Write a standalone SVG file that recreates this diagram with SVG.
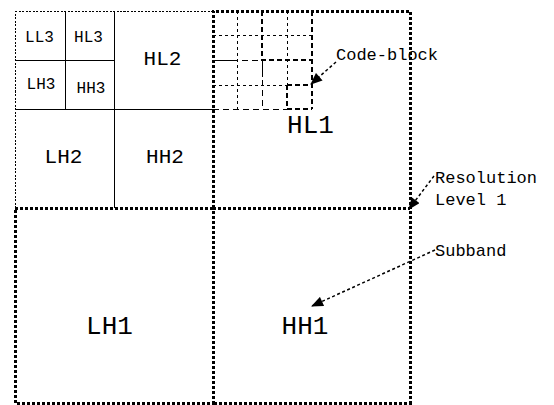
<svg xmlns="http://www.w3.org/2000/svg" width="554" height="405" viewBox="0 0 554 405">
<defs>
<style>
text{font-family:"Liberation Mono","Courier New",monospace;fill:#000}
.s{font-size:16px}
.m{font-size:21px}
.l{font-size:26px}
.a{font-size:17px}
.solid{stroke:#000;stroke-width:1;fill:none;shape-rendering:crispEdges}
.thin{stroke:#000;stroke-width:1;fill:none;stroke-dasharray:2 1.5;shape-rendering:crispEdges}
.thick{stroke:#000;stroke-width:3;fill:none;stroke-dasharray:3 2;shape-rendering:crispEdges}
.dot{stroke:#000;stroke-width:1;fill:none;stroke-dasharray:3 3;shape-rendering:crispEdges}
.dash{stroke:#000;stroke-width:1;fill:none;stroke-dasharray:6 4;shape-rendering:crispEdges}
.bdash{stroke:#000;stroke-width:2;fill:none;stroke-dasharray:5 3;shape-rendering:crispEdges}
.arr{stroke:#000;stroke-width:1.5;fill:none;stroke-dasharray:3 2.5}
</style>
<marker id="ah" viewBox="0 0 12 10" refX="11" refY="5" markerWidth="13" markerHeight="10" markerUnits="userSpaceOnUse" orient="auto">
<path d="M0,0 L12,5 L0,10 z" fill="#000"/>
</marker>
</defs>
<rect width="554" height="405" fill="#fff"/>
<g id="LL1-region">
<path class="thin" d="M15.5,208 V11.5 H213"/>
<path class="solid" d="M65.5,11 V109 M114.5,11 V208 M15,60.5 H114 M15,109.5 H213"/>
</g>
<g id="LL3"><text class="s" x="39.5" y="42" text-anchor="middle">LL3</text></g>
<g id="HL3"><text class="s" x="88.5" y="42" text-anchor="middle">HL3</text></g>
<g id="LH3"><text class="s" x="41" y="89" text-anchor="middle">LH3</text></g>
<g id="HH3"><text class="s" x="91" y="93" text-anchor="middle">HH3</text></g>
<g id="HL2"><text class="m" x="162.5" y="65" text-anchor="middle">HL2</text></g>
<g id="LH2"><text class="m" x="63.5" y="163" text-anchor="middle">LH2</text></g>
<g id="HH2"><text class="m" x="165" y="163" text-anchor="middle">HH2</text></g>
<g id="code-blocks">
<path class="dot" d="M237.5,11 V109 M287.5,11 V85 M213,35.5 H312 M213,85.5 H287"/>
<path class="solid" d="M213,60.5 H232 M262.5,60 V77"/>
<path class="dash" d="M232,60.5 H262 M262.5,80 V109 M213,109.5 H287"/>
<path class="bdash" d="M262,11 V60 H312 M312,11 V109 M287,85 H312 M287,85 V109 H312"/>
</g>
<g id="HL1">
<path class="thick" d="M213,208 V11 H410 V208"/>
<text class="l" x="310.5" y="133" text-anchor="middle">HL1</text>
</g>
<g id="LH1">
<path class="thick" d="M213,208 H15 V403 H213 V208"/>
<text class="l" x="109.5" y="334" text-anchor="middle">LH1</text>
</g>
<g id="HH1">
<path class="thick" d="M213,208 H410 V403 H213"/>
<text class="l" x="305" y="334" text-anchor="middle">HH1</text>
</g>
<g id="labels">
<text class="a" x="336" y="60">Code-block</text>
<text class="a" x="435" y="183">Resolution</text>
<text class="a" x="435" y="205">Level 1</text>
<text class="a" x="435" y="256">Subband</text>
</g>
<g id="connectors">
<path class="arr" d="M336,62 L311,84" marker-end="url(#ah)"/>
<path class="arr" d="M434,176 L409,209" marker-end="url(#ah)"/>
<path class="arr" d="M435,250 L312,306" marker-end="url(#ah)"/>
</g>
</svg>
